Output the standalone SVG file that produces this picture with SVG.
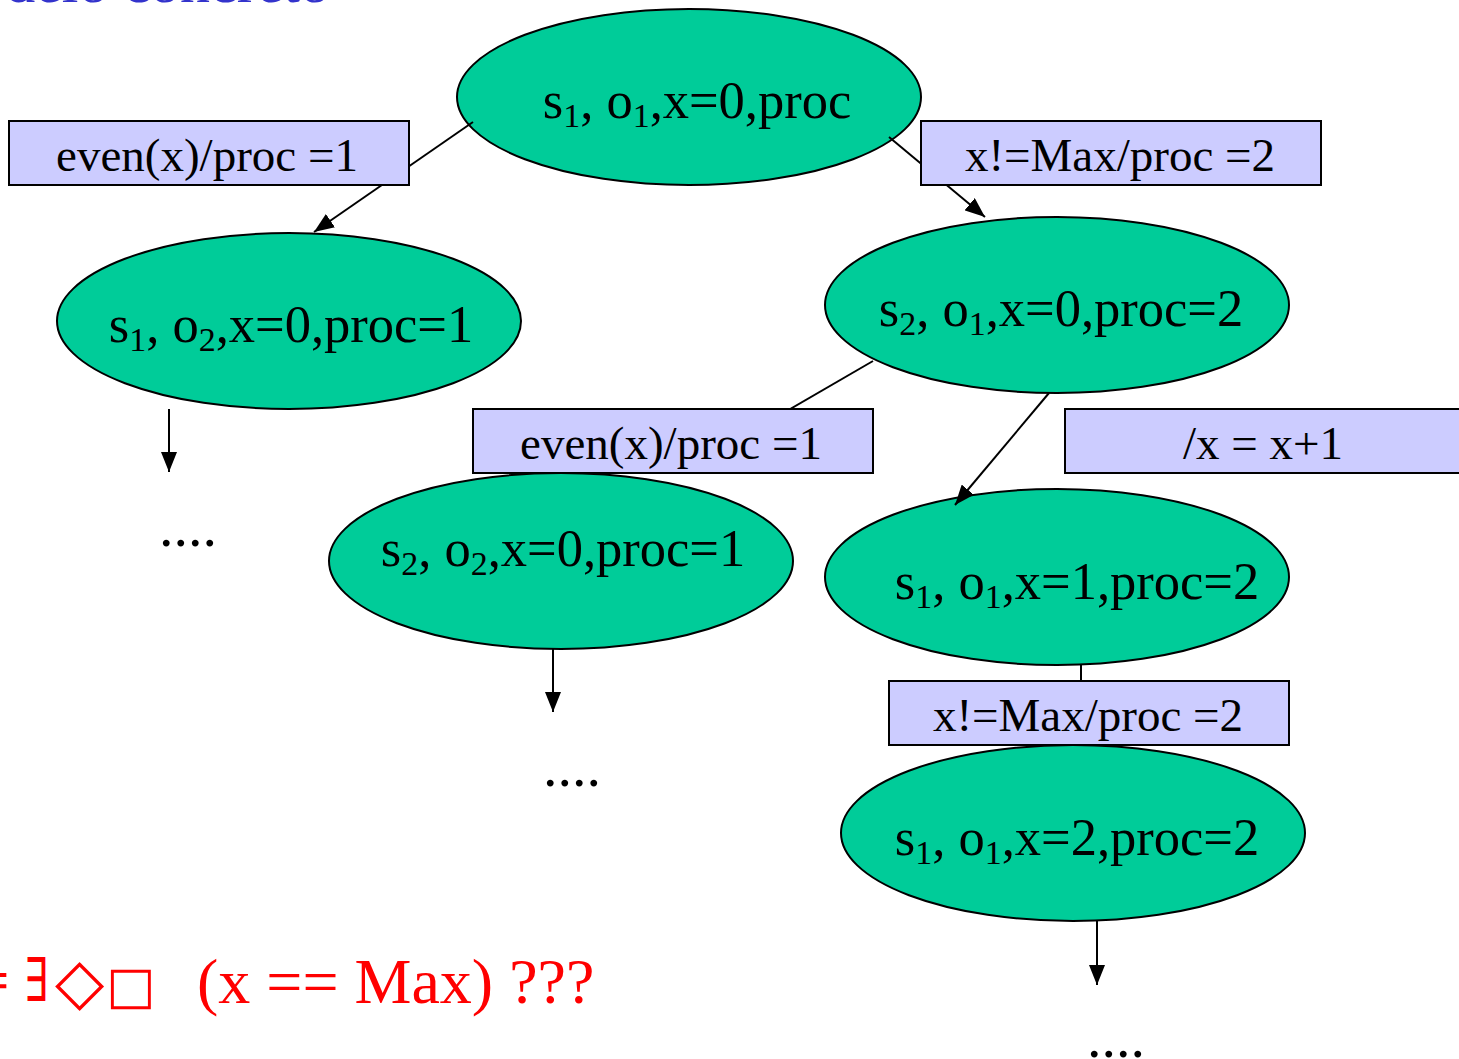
<svg xmlns="http://www.w3.org/2000/svg" width="1459" height="1059" viewBox="0 0 1459 1059">
<style>
.node ellipse{fill:#00cc99;stroke:#000;stroke-width:2}
.t{font-family:"Liberation Serif","Times New Roman",serif;font-size:47px;fill:#000;text-anchor:middle}
.n{font-size:52.5px}
.sub{font-size:34px}
.lbl rect{fill:#ccccff;stroke:#000;stroke-width:2}
.edge{stroke:#000;stroke-width:2;fill:none;marker-end:url(#ah)}
.dots{font-family:"Liberation Serif",serif;font-size:58px;text-anchor:middle}
.red{fill:#ff0000;font-family:"Liberation Serif",serif;font-size:64px}
.sym{fill:#ff0000;font-family:"DejaVu Sans",sans-serif}
</style>
<defs>
<marker id="ah" viewBox="0 0 20 16" refX="20" refY="8" markerWidth="20" markerHeight="16" markerUnits="userSpaceOnUse" orient="auto">
<path d="M0,0 L20,8 L0,16 z" fill="#000"/>
</marker>
</defs>
<rect width="1459" height="1059" fill="#fff"/>
<text x="330" y="1.5" font-family="Liberation Serif,serif" font-size="60" fill="#3333cc" text-anchor="end">Modelo concreto</text>

<g id="node-s1o1x0" class="node">
<ellipse cx="689" cy="97" rx="232" ry="88"/>
<text class="t n" x="697" y="118">s<tspan class="sub" dy="9">1</tspan><tspan dy="-9">, o</tspan><tspan class="sub" dy="9">1</tspan><tspan dy="-9">,x=0,proc</tspan></text>
</g>
<g id="node-s1o2x0" class="node">
<ellipse cx="289" cy="321" rx="232" ry="88"/>
<text class="t n" x="291" y="342">s<tspan class="sub" dy="9">1</tspan><tspan dy="-9">, o</tspan><tspan class="sub" dy="9">2</tspan><tspan dy="-9">,x=0,proc=1</tspan></text>
</g>
<g id="node-s2o1x0" class="node">
<ellipse cx="1057" cy="305" rx="232" ry="88"/>
<text class="t n" x="1061" y="326">s<tspan class="sub" dy="9">2</tspan><tspan dy="-9">, o</tspan><tspan class="sub" dy="9">1</tspan><tspan dy="-9">,x=0,proc=2</tspan></text>
</g>
<g id="node-s2o2x0" class="node">
<ellipse cx="561" cy="561" rx="232" ry="88"/>
<text class="t n" x="563" y="566">s<tspan class="sub" dy="9">2</tspan><tspan dy="-9">, o</tspan><tspan class="sub" dy="9">2</tspan><tspan dy="-9">,x=0,proc=1</tspan></text>
</g>
<g id="node-s1o1x1" class="node">
<ellipse cx="1057" cy="577" rx="232" ry="88"/>
<text class="t n" x="1077" y="599">s<tspan class="sub" dy="9">1</tspan><tspan dy="-9">, o</tspan><tspan class="sub" dy="9">1</tspan><tspan dy="-9">,x=1,proc=2</tspan></text>
</g>
<g id="node-s1o1x2" class="node">
<ellipse cx="1073" cy="833" rx="232" ry="88"/>
<text class="t n" x="1077" y="855">s<tspan class="sub" dy="9">1</tspan><tspan dy="-9">, o</tspan><tspan class="sub" dy="9">1</tspan><tspan dy="-9">,x=2,proc=2</tspan></text>
</g>

<g id="connectors">
<line class="edge" x1="473" y1="122" x2="314" y2="232"/>
<line class="edge" x1="889" y1="137" x2="985" y2="217"/>
<line class="edge" x1="873" y1="361" x2="735" y2="441"/>
<line class="edge" x1="1049" y1="393" x2="955" y2="505"/>
<line class="edge" x1="1081" y1="665" x2="1081" y2="735"/>
<line class="edge" x1="169" y1="409" x2="169" y2="472"/>
<line class="edge" x1="553" y1="649" x2="553" y2="712"/>
<line class="edge" x1="1097" y1="921" x2="1097" y2="985"/>
</g>

<g id="edge-labels">
<g class="lbl"><rect x="9" y="121" width="400" height="64"/><text class="t" x="207" y="171">even(x)/proc =1</text></g>
<g class="lbl"><rect x="921" y="121" width="400" height="64"/><text class="t" x="1120" y="171">x!=Max/proc =2</text></g>
<g class="lbl"><rect x="473" y="409" width="400" height="64"/><text class="t" x="671" y="459">even(x)/proc =1</text></g>
<g class="lbl"><rect x="1065" y="409" width="400" height="64"/><text class="t" x="1263" y="459">/x = x+1</text></g>
<g class="lbl"><rect x="889" y="681" width="400" height="64"/><text class="t" x="1088" y="731">x!=Max/proc =2</text></g>
</g>

<text class="dots" x="188" y="546">....</text>
<text class="dots" x="572" y="786">....</text>
<text class="dots" x="1116" y="1057">....</text>

<g id="formula">
<text class="red" x="-44" y="1003">⊨</text>
<text class="sym" font-size="54" transform="translate(24,1001) scale(0.7,1.12)">∃</text>
<text class="sym" font-size="64" x="55" y="1003">◇</text>
<text class="sym" font-size="52" x="106" y="1003">□</text>
<text class="red" x="197" y="1003">(x == Max) ???</text>
</g>
</svg>
